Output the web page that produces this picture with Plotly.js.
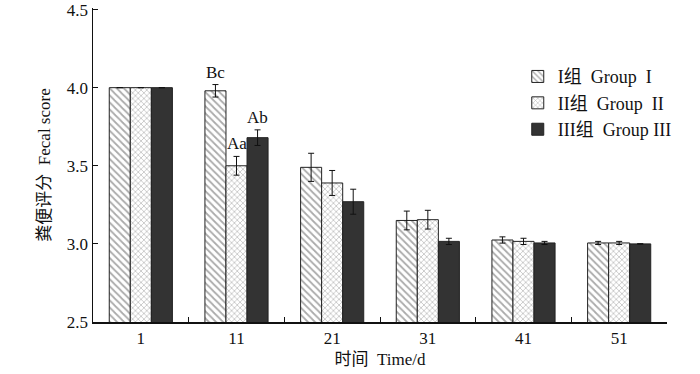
<!DOCTYPE html>
<html><head><meta charset="utf-8">
<script src="https://cdn.plot.ly/plotly-3.0.1.min.js"></script>
<style>html,body{margin:0;padding:0;background:#fff}#c{width:700px;height:374px}</style>
</head><body><div id="c"></div>
<script>
const days = ['1', '11', '21', '31', '41', '51'];
const groupNames = ['I组  Group  I', 'II组  Group  II', 'III组  Group III'];
const g1 = [4.00, 3.98, 3.49, 3.15, 3.025, 3.006];
const g1Err = [null, 0.04, 0.09, 0.06, 0.02, 0.01];
const g2 = [4.00, 3.50, 3.39, 3.155, 3.016, 3.006];
const g2Err = [null, 0.06, 0.08, 0.06, 0.02, 0.01];
const g3 = [4.00, 3.68, 3.27, 3.016, 3.006, 3.0];
const g3Err = [null, 0.05, 0.08, 0.02, 0.01, null];
const sigLabels = [['', 'Bc', '', '', '', ''], ['', 'Aa', '', '', '', ''], ['', 'Ab', '', '', '', '']];
const yTicks = [2.5, 3.0, 3.5, 4.0, 4.5];

const serif = 'Liberation Serif, Times New Roman, Noto Sans CJK SC, serif';
const vals = [g1, g2, g3], errs = [g1Err, g2Err, g3Err];
const styles = [
  {color: '#ffffff', pattern: {shape: '\\', fgcolor: '#555', size: 5, solidity: 0.35, fillmode: 'overlay'}},
  {color: '#ffffff', pattern: {shape: 'x', fgcolor: '#666', size: 4, solidity: 0.3, fillmode: 'overlay'}},
  {color: '#333333'}
];
const traces = vals.map((v, i) => ({
  type: 'bar', x: days, y: v, name: groupNames[i],
  marker: Object.assign({line: {color: '#222', width: 1}}, styles[i]),
  error_y: {type: 'data', array: errs[i], visible: true, color: '#111', thickness: 1, width: 3}
}));

const barPx = 21;
const annotations = [];
sigLabels.forEach((row, gi) => row.forEach((t, di) => {
  if (!t) return;
  annotations.push({x: di, y: vals[gi][di] + (errs[gi][di] || 0), xref: 'x', yref: 'y',
    text: t, showarrow: false, xshift: (gi - 1) * barPx, yanchor: 'bottom', yshift: 1,
    font: {family: serif, size: 17, color: '#111'}});
}));

const layout = {
  width: 700, height: 374,
  margin: {l: 93, r: 33, t: 8, b: 52},
  paper_bgcolor: '#fff', plot_bgcolor: '#fff',
  barmode: 'group', bargap: 0.34, bargroupgap: 0,
  showlegend: true,
  legend: {x: 0.74, y: 0.84, xanchor: 'left', yanchor: 'top', font: {family: serif, size: 18, color: '#111'},
    bgcolor: 'rgba(0,0,0,0)', tracegroupgap: 4, itemwidth: 30},
  xaxis: {type: 'category', range: [-0.5, 5.5], showline: true, linecolor: '#111', linewidth: 1.5, ticks: 'inside',
    tickson: 'boundaries', ticklen: 5, tickcolor: '#111', showgrid: false, zeroline: false,
    tickfont: {family: serif, size: 17, color: '#111'},
    title: {text: '时间  Time/d', font: {family: serif, size: 17, color: '#111'}, standoff: 6}},
  yaxis: {range: [2.5, 4.51], tickmode: 'array', tickvals: yTicks, ticktext: yTicks.map(v => v.toFixed(1)),
    ticklabeloverflow: 'allow',
    showline: true, linecolor: '#111', linewidth: 1.5,
    ticks: 'inside', ticklen: 5, tickcolor: '#111', showgrid: false, zeroline: false,
    tickfont: {family: serif, size: 17, color: '#111'},
    title: {text: '粪便评分  Fecal score', font: {family: serif, size: 17, color: '#111'}, standoff: 12}},
  annotations: annotations
};
Plotly.newPlot('c', traces, layout, {staticPlot: true, displayModeBar: false});
</script></body></html>
